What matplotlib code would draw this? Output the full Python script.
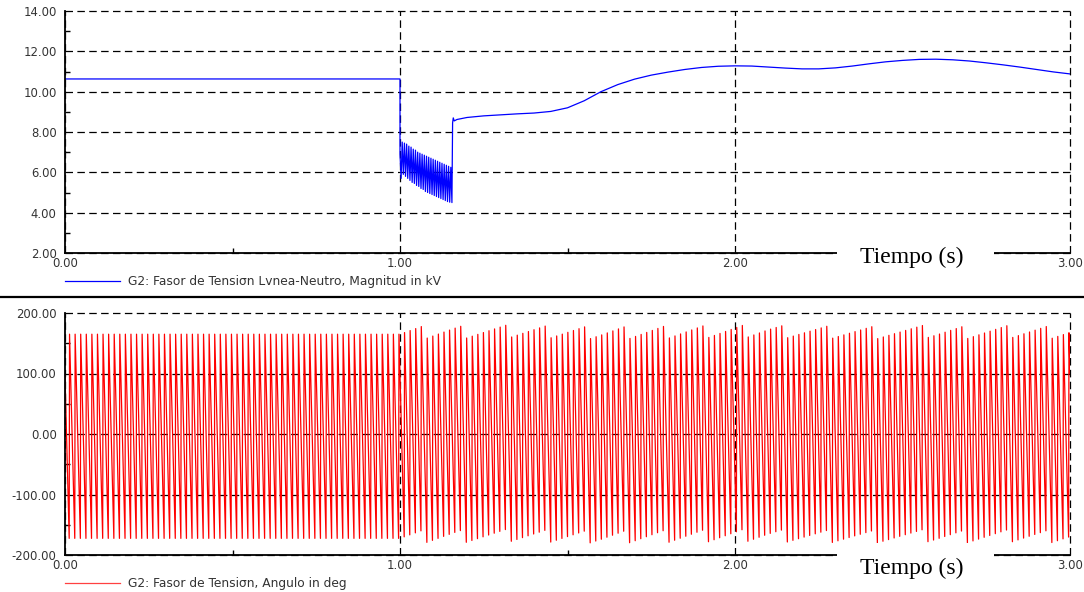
import numpy as np
import matplotlib
matplotlib.use('Agg')
import matplotlib.pyplot as plt
from matplotlib.lines import Line2D
from matplotlib.patches import Rectangle

# ---------------- data ----------------
# Magnitude of G2 line-neutral voltage phasor [kV]
pre_t = [0.0, 1.0]
pre_v = [10.63, 10.63]
fault_t0 = 1.0
fault_t1 = 1.155
fault_hi = [6.9, 7.5, 7.45, 7.4, 7.3, 7.25, 7.15, 7.1, 7.0, 6.95, 6.9, 6.85,
            6.8, 6.75, 6.7, 6.65, 6.6, 6.55, 6.5, 6.45, 6.4, 6.35, 6.3, 6.25]
fault_lo = [5.7, 5.9, 5.8, 5.7, 5.6, 5.5, 5.45, 5.35, 5.3, 5.2, 5.15, 5.05,
            5.0, 4.95, 4.9, 4.85, 4.8, 4.75, 4.7, 4.65, 4.6, 4.55, 4.52, 4.5]
post_t = [1.157, 1.159, 1.162, 1.17, 1.2, 1.25, 1.3, 1.35, 1.4, 1.45, 1.5, 1.55,
          1.6, 1.65, 1.7, 1.75, 1.8, 1.85, 1.9, 1.95, 2.0, 2.05, 2.1, 2.15,
          2.2, 2.25, 2.3, 2.35, 2.4, 2.45, 2.5, 2.55, 2.6, 2.65, 2.7, 2.75,
          2.8, 2.85, 2.9, 2.95, 3.0]
post_v = [8.45, 8.7, 8.55, 8.62, 8.72, 8.8, 8.85, 8.9, 8.94, 9.02, 9.2, 9.55,
          10.0, 10.35, 10.62, 10.82, 10.97, 11.1, 11.2, 11.26, 11.28, 11.27, 11.22, 11.17,
          11.13, 11.13, 11.18, 11.27, 11.38, 11.48, 11.55, 11.6, 11.61, 11.58, 11.52, 11.43,
          11.33, 11.22, 11.1, 10.98, 10.88]

# Angle of the phasor [deg]: sampled wrapped phase, read as sampling step,
# initial angle and the apparent rotation rate in each time segment
ang_dt = 1.0 / 960.0
ang_start = 97.5
ang_seg_t = [0.0, 1.0, 1.16, 1.6, 2.1, 2.6]
ang_seg_f = [-60.0, -59.45, -59.5, -59.45, -59.55, -59.5]

mag_yticks = [2.0, 4.0, 6.0, 8.0, 10.0, 12.0, 14.0]
ang_yticks = [-200.0, -100.0, 0.0, 100.0, 200.0]
x_ticks = [0.0, 1.0, 2.0, 3.0]

label_mag = "G2: Fasor de Tensi\u03c3n Lvnea-Neutro, Magnitud in kV"
label_ang = "G2: Fasor de Tensi\u03c3n, Angulo in deg"
xlabel = "Tiempo (s)"

# ---------------- build series ----------------
n = len(fault_hi)
ft = np.linspace(fault_t0, fault_t1, 2 * n)
fv = np.empty(2 * n)
fv[0::2] = fault_hi
fv[1::2] = fault_lo
mag_t = np.concatenate([pre_t, ft, post_t])
mag_v = np.concatenate([pre_v, fv, post_v])

ang_t = np.arange(0.0, 3.0 + ang_dt / 2, ang_dt)
seg_idx = np.searchsorted(ang_seg_t, ang_t, side='right') - 1
rate = np.array(ang_seg_f)[seg_idx]
steps = np.concatenate([[0.0], 360.0 * rate[:-1] * ang_dt])
phase = ang_start + np.cumsum(steps)
ang_v = ((phase + 180.0) % 360.0) - 180.0

# ---------------- figure ----------------
W, H = 1084, 592
plt.rcParams['font.family'] = ['DejaVu Sans']
fig = plt.figure(figsize=(W / 100, H / 100), dpi=100)
fig.patch.set_facecolor('white')

def px(x0, y0, x1, y1):
    return [x0 / W, 1 - y1 / H, (x1 - x0) / W, (y1 - y0) / H]

ax1 = fig.add_axes(px(65, 11, 1070, 253))
ax2 = fig.add_axes(px(65, 313, 1070, 555))

tick_color = '#333333'
tick_fs = 8.4
leg_fs = 8.8

def style(ax, yticks, yminor, ylim):
    ax.set_xlim(0, 3)
    ax.set_ylim(*ylim)
    ax.set_xticks(x_ticks)
    ax.set_xticks([0.5, 1.5, 2.5], minor=True)
    ax.set_yticks(yticks)
    ax.set_yticks(yminor, minor=True)
    ax.set_xticklabels([f"{v:.2f}" for v in x_ticks])
    ax.set_yticklabels([f"{v:.2f}" for v in yticks])
    for s in ['top', 'right']:
        ax.spines[s].set_visible(False)
    for s in ['left', 'bottom']:
        ax.spines[s].set_linewidth(1.3)
        ax.spines[s].set_color('black')
        ax.spines[s].set_zorder(5)
    ax.tick_params(which='major', length=0, labelsize=tick_fs, colors=tick_color, pad=6)
    ax.tick_params(axis='x', which='major', pad=3)
    ax.tick_params(which='minor', direction='in', length=3.5, width=1, color='black')
    ax.grid(True, which='major', color='black', linestyle=(0, (6, 3.5)), linewidth=0.9)
    for gl in ax.get_xgridlines() + ax.get_ygridlines():
        gl.set_clip_on(False)
    ax.set_facecolor('white')

style(ax1, mag_yticks, [3, 5, 7, 9, 11, 13], (2, 14))
style(ax2, ang_yticks, [-150, -50, 50, 150], (-200, 200))

ax1.plot(mag_t, mag_v, color='#0000ff', linewidth=0.9, zorder=3)
ax2.plot(ang_t, ang_v, color='#ff0000', linewidth=0.9, zorder=3)

# Legends below each panel
fig.add_artist(Line2D([65 / W, 120 / W], [1 - 281 / H, 1 - 281 / H], color='#0000ff', linewidth=0.9))
fig.text(128 / W, 1 - 281 / H, label_mag, fontsize=leg_fs, color=tick_color, va='center', ha='left')
fig.add_artist(Line2D([65 / W, 120 / W], [1 - 583 / H, 1 - 583 / H], color='#ff4040', linewidth=0.9))
fig.text(128 / W, 1 - 583 / H, label_ang, fontsize=leg_fs, color=tick_color, va='center', ha='left')

# Separator line
fig.add_artist(Line2D([0, 1], [1 - 297 / H, 1 - 297 / H], color='black', linewidth=1.6))

# "Tiempo (s)" labels with white boxes hiding the axis line
for axis_y, base_y in [(253, 263), (555, 574)]:
    fig.add_artist(Rectangle((837 / W, 1 - (axis_y + 16) / H), (994 - 837) / W, 28 / H,
                             transform=fig.transFigure, facecolor='white', edgecolor='none', zorder=10))
    fig.text(912 / W, 1 - base_y / H, xlabel, fontsize=17, family=['Liberation Serif', 'DejaVu Serif'],
             ha='center', va='baseline', color='black', zorder=11)

fig.savefig('out.png', dpi=100, facecolor='white')
